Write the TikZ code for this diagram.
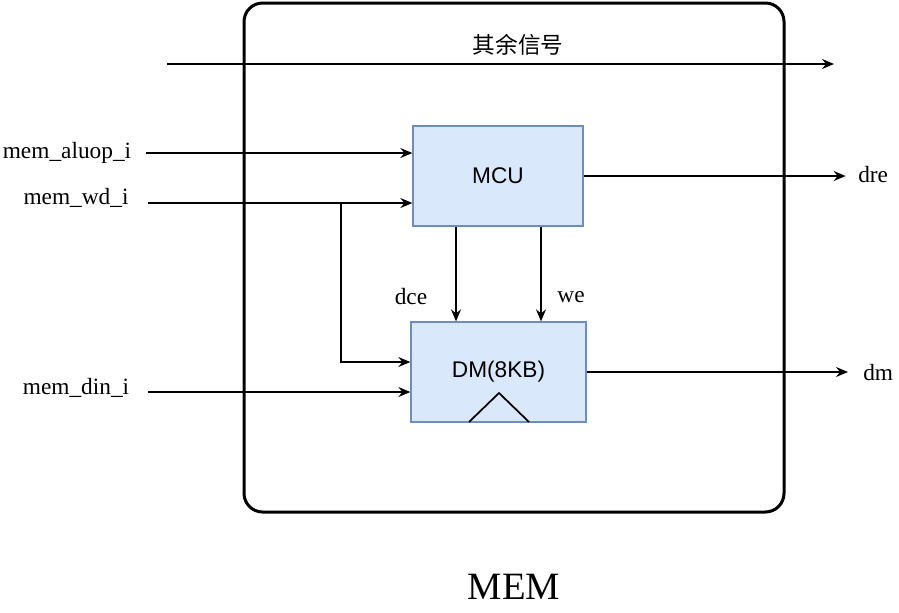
\documentclass[tikz,border=0pt]{standalone}
\usepackage{fontspec}
\setmainfont{Liberation Serif}
\newfontfamily\labelsans{Liberation Sans}
\newfontfamily\cjk{Noto Sans CJK SC}
\usepackage{tikz}
\usetikzlibrary{arrows,arrows.meta}

\definecolor{boxfill}{HTML}{DAE8FC}
\definecolor{boxline}{HTML}{6C8EBF}

\tikzset{
  unitbox/.style={draw=boxline, fill=boxfill, line width=1pt, inner sep=0pt, font=\labelsans\fontsize{17}{20}\selectfont},
  sig/.style={-{Stealth[length=9pt,width=7.5pt,inset=3pt]}, line width=1.1pt},
  siglabel/.style={inner sep=0.75pt, font=\fontsize{17.5}{20}\selectfont}
}

\begin{document}
\begin{tikzpicture}[x=0.75pt,y=0.75pt,yscale=-1,xscale=1]
\useasboundingbox (0,0) rectangle (899,612);

%Shape: Rectangle [outer MEM frame]
\draw [line width=2.25pt, rounded corners=14pt] (244,3) rectangle (784,512);

%Shape: Rectangle [MCU]
\node [unitbox, minimum width=127.5pt, minimum height=75pt] (mcu) at (498,176) {MCU};
%Shape: Rectangle [DM]
\node [unitbox, minimum width=131.25pt, minimum height=75pt] (dm) at (498.5,372) {DM(8KB)};
%Shape: Triangle [clock]
\draw [line width=1.3pt] (469,422) -- (499,393) -- (529,422);

% Text Node
\node [siglabel] (aluop) at (67,153) {mem\_aluop\_i};
% Text Node
\node [siglabel] (wd) at (76,198) {mem\_wd\_i};
% Text Node
\node [siglabel] (din) at (76,388) {mem\_din\_i};
% Text Node
\node [siglabel, anchor=west] (dre) at (857,175) {dre};
% Text Node
\node [siglabel, anchor=west] (dmout) at (862,373) {dm};
% Text Node
\node [siglabel] (dce) at (411,297) {dce};
% Text Node
\node [siglabel] (we) at (571,297) {we};
% Text Node
\node [inner sep=0.75pt, font=\cjk\fontsize{17}{20}\selectfont] (rest) at (518,45) {其余信号};
% Text Node
\node [inner sep=0.75pt, font=\fontsize{29}{34}\selectfont] (mem) at (514,587) {MEM};

%Free ends
\coordinate (reststart) at (167,64);
\coordinate (restend) at (834,64);
\coordinate (aluopstart) at (146,153);
\coordinate (wdstart) at (148,203);
\coordinate (wdsplit) at (341,203);
\coordinate (dinstart) at (148,392);

%Straight Lines
\draw [sig] (reststart) -- (restend);
\draw [sig] (aluopstart) -- (aluopstart -| mcu.west);
\draw [sig] (wdstart) -- (wdstart -| mcu.west);
\draw [sig] (wdsplit) |- ([yshift=-7.5pt]dm.west);
\draw [sig] (dinstart) -- (dinstart -| dm.west);
\draw [sig] (mcu.east) -- ([xshift=-8.5pt]mcu.east -| dre.west);
\draw [sig] ([xshift=-31.5pt]mcu.south) -- ([xshift=-31.5pt]mcu.south |- dm.north);
\draw [sig] ([xshift=32.25pt]mcu.south) -- ([xshift=32.25pt]mcu.south |- dm.north);
\draw [sig] (dm.east) -- ([xshift=-10.5pt]dm.east -| dmout.west);

\end{tikzpicture}
\end{document}
